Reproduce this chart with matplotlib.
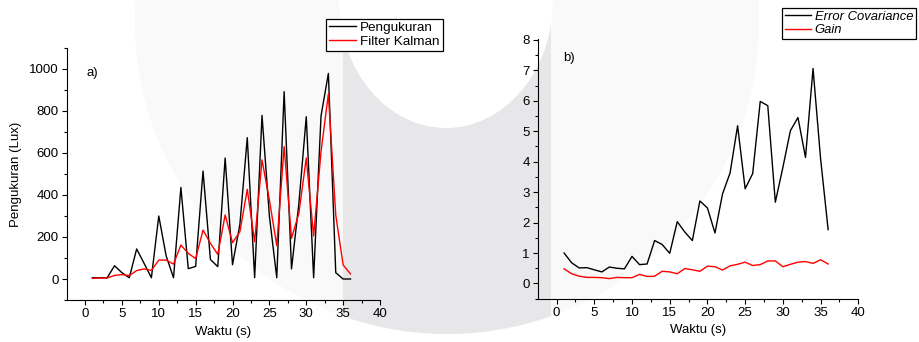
import numpy as np
import matplotlib.pyplot as plt
from matplotlib.patches import Circle, Ellipse, Rectangle

plt.rcParams['font.family'] = ['Liberation Sans', 'DejaVu Sans']

# data
waktu = list(range(1, 37))
pengukuran = [6, 6, 6, 63, 30, 6, 143, 75, 6, 300, 110, 6, 436, 49, 60, 514, 93, 59,
              576, 68, 260, 673, 6, 779, 300, 6, 892, 48, 360, 773, 6, 776, 979, 30, 0, 0]
kalman = [3, 5, 5, 17, 21, 16, 40, 48, 41, 90, 90, 71, 162, 122, 97, 233, 170, 117,
          305, 173, 225, 427, 178, 567, 376, 159, 630, 194, 313, 576, 205, 606, 881, 305, 67, 24]
err_cov = [1.0, 0.68, 0.51, 0.52, 0.45, 0.38, 0.54, 0.50, 0.48, 0.89, 0.62, 0.64,
           1.41, 1.28, 0.99, 2.03, 1.69, 1.41, 2.71, 2.48, 1.66, 2.94, 3.63, 5.18,
           3.11, 3.61, 5.98, 5.84, 2.67, 3.81, 5.02, 5.45, 4.14, 7.06, 4.1, 1.77]
gain = [0.48, 0.32, 0.24, 0.20, 0.20, 0.19, 0.16, 0.20, 0.19, 0.19, 0.30, 0.23,
        0.24, 0.40, 0.38, 0.32, 0.49, 0.45, 0.40, 0.57, 0.55, 0.44, 0.58, 0.63,
        0.70, 0.59, 0.62, 0.74, 0.74, 0.55, 0.63, 0.70, 0.72, 0.66, 0.78, 0.64]

W, H = 920, 342
fig = plt.figure(figsize=(W / 100, H / 100), dpi=100)

# faint watermark in the background (pixel coords)
bg = fig.add_axes([0, 0, 1, 1], zorder=-1)
bg.set_xlim(0, W)
bg.set_ylim(H, 0)
bg.axis('off')
outer = Circle((447, 22), 312, color='#f9f9f9', lw=0)
bg.add_patch(outer)
band = Rectangle((343, -10), 208, 400, color='#e7e7ea', lw=0)
bg.add_patch(band)
band.set_clip_path(outer)
bg.add_patch(Ellipse((446, 0), 214, 256, color='white', lw=0))


def style(ax, xlim, ylim, ymaj, ymin):
    ax.set_facecolor('none')
    ax.spines['top'].set_visible(False)
    ax.spines['right'].set_visible(False)
    for s in ['left', 'bottom']:
        ax.spines[s].set_linewidth(0.8)
    ax.set_xlim(*xlim)
    ax.set_ylim(*ylim)
    ax.set_xticks(np.arange(0, 41, 5))
    ax.set_xticks(np.arange(0, 40.1, 2.5), minor=True)
    ax.set_yticks(ymaj)
    ax.set_yticks(ymin, minor=True)
    ax.tick_params(which='major', length=3.8, width=0.8, labelsize=9.5, pad=2)
    ax.tick_params(which='minor', length=2.2, width=0.8)
    ax.set_xlabel('Waktu (s)', fontsize=9.5, labelpad=4)


def fig_px(x, y):
    return (x / W, 1 - y / H)


# panel a
ax1 = fig.add_axes([66.6 / W, 1 - 300 / H, (380 - 66.6) / W, (300 - 48) / H])
ax1.plot(waktu, pengukuran, color='black', lw=1.0, label='Pengukuran')
ax1.plot(waktu, kalman, color='red', lw=1.0, label='Filter Kalman')
style(ax1, (-2.5, 40), (-100, 1100), np.arange(0, 1001, 200), np.arange(-100, 1101, 100))
ax1.set_ylabel('Pengukuran (Lux)', fontsize=9.5, labelpad=5)
fig.text(*fig_px(87, 73), 'a)', fontsize=9.5, va='center', ha='left')
ax1.legend(loc='upper left', bbox_to_anchor=fig_px(326, 19), bbox_transform=fig.transFigure,
           fontsize=9.7, frameon=True, fancybox=False, edgecolor='black', framealpha=1,
           handlelength=2.0, handletextpad=0.35, borderpad=0.2, labelspacing=0.1,
           borderaxespad=0).get_frame().set_linewidth(0.9)

# panel b
ax2 = fig.add_axes([537.7 / W, 1 - 298.7 / H, (858.3 - 537.7) / W, (298.7 - 39) / H])
ax2.plot(waktu, err_cov, color='black', lw=1.0, label='Error Covariance')
ax2.plot(waktu, gain, color='red', lw=1.0, label='Gain')
style(ax2, (-2.5, 40), (-0.5, 8.03), np.arange(0, 9, 1), np.arange(-0.5, 8.01, 0.5))
fig.text(*fig_px(563, 58), 'b)', fontsize=9.5, va='center', ha='left')
leg = ax2.legend(loc='upper left', bbox_to_anchor=fig_px(782, 8), bbox_transform=fig.transFigure,
                 frameon=True, fancybox=False, edgecolor='black', framealpha=1,
                 handlelength=2.0, handletextpad=0.3, borderpad=0.2, labelspacing=0.1,
                 borderaxespad=0, prop={'style': 'italic', 'size': 9.4})
leg.get_frame().set_linewidth(0.9)

fig.savefig('out.png', dpi=100)
